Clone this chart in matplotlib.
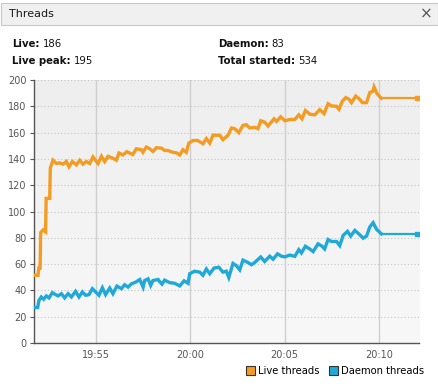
import numpy as np
import matplotlib.pyplot as plt
from matplotlib.patches import Patch, Rectangle
from matplotlib.colors import LinearSegmentedColormap

# data (minutes after 19:50)
live_t = [1.66, 1.93, 1.97, 2.04, 2.07, 2.20, 2.33, 2.36, 2.55, 2.58, 2.72, 2.90, 3.08, 3.25,
          3.43, 3.57, 3.75, 3.96, 4.14, 4.31, 4.49, 4.67, 4.84, 5.11, 5.29, 5.46, 5.64, 5.90,
          6.08, 6.22, 6.43, 6.64, 6.95, 7.14, 7.41, 7.49, 7.67, 7.85, 8.02, 8.20, 8.47, 8.64,
          8.82, 9.08, 9.26, 9.44, 9.61, 9.79, 9.92, 10.14, 10.39, 10.67, 10.85, 11.03, 11.20,
          11.56, 11.73, 12.00, 12.18, 12.35, 12.57, 12.79, 12.97, 13.15, 13.41, 13.59, 13.73,
          13.94, 14.12, 14.44, 14.57, 14.79, 15.01, 15.27, 15.54, 15.75, 15.92, 16.10, 16.33,
          16.60, 16.86, 17.09, 17.30, 17.48, 17.75, 17.88, 18.06, 18.24, 18.41, 18.54, 18.77,
          18.98, 19.12, 19.34, 19.51, 19.69, 19.74, 19.90, 20.13, 21.99]
live = [51.5, 51.5, 57, 57, 84, 86, 84.5, 110, 110, 133, 139, 136.5, 137, 136,
        138, 134, 138, 135.5, 139, 136, 138, 136.5, 141.5, 136.5, 142, 138, 142, 140.5,
        139, 144.5, 143, 145.5, 143.3, 147.7, 147, 145, 149, 147.7, 145.6, 148.5, 148.2, 146.4,
        146.4, 145, 144.6, 143, 147, 145, 152, 154, 154, 151.5, 155.4, 152, 158,
        158, 154.6, 158, 163.5, 163, 160, 165.5, 166, 163.5, 164, 163, 169,
        168, 165, 170.5, 168.5, 172, 169, 170, 170, 173.5, 170.5, 176.8, 174,
        173.5, 177.5, 174.4, 182, 180.3, 180, 177.7, 184, 186.6, 185.3, 182.8, 187.8,
        185.3, 182.8, 182.8, 190.4, 191.6, 194.7, 189.6, 186, 186]

daemon_t = [1.64, 1.91, 1.98, 2.10, 2.23, 2.37, 2.51, 2.69, 2.86, 2.99, 3.17, 3.34, 3.52, 3.70,
            3.92, 4.10, 4.28, 4.45, 4.63, 4.81, 5.02, 5.16, 5.34, 5.51, 5.73, 5.90, 6.11, 6.35,
            6.52, 6.70, 6.88, 7.11, 7.32, 7.50, 7.58, 7.76, 7.90, 8.02, 8.29, 8.38, 8.50, 8.64,
            8.91, 9.17, 9.44, 9.67, 9.88, 9.97, 10.23, 10.50, 10.67, 10.85, 11.03, 11.26, 11.51,
            11.73, 11.91, 12.04, 12.26, 12.44, 12.62, 12.79, 13.06, 13.24, 13.41, 13.73, 13.94,
            14.21, 14.39, 14.62, 14.83, 15.01, 15.27, 15.54, 15.75, 15.89, 16.10, 16.33, 16.51,
            16.77, 16.98, 17.12, 17.30, 17.48, 17.75, 17.92, 18.10, 18.33, 18.50, 18.72, 18.93,
            19.16, 19.34, 19.51, 19.69, 19.87, 20.13, 21.99]
daemon = [27, 27, 32.5, 35, 33.3, 35.8, 34.3, 38.3, 36.8, 35.8, 37.5, 34.3, 37.5, 35,
          39.3, 35, 38.8, 36.3, 36.8, 41.3, 38.3, 36.3, 42, 36.8, 41.8, 37.5, 43.3, 41.3,
          44.3, 42.5, 45, 46.3, 48.3, 42.5, 47.5, 48.8, 43.8, 47.5, 48.3, 46.6, 44.8, 47.8,
          45.9, 45.4, 43.4, 47.3, 45.4, 52.7, 54.6, 53.9, 51.5, 56.3, 52.7, 57, 57.6,
          53.9, 54.6, 49.8, 60.5, 58.8, 55.6, 63, 61.2, 59.5, 61.2, 65.4, 62,
          66, 63.7, 67.8, 66, 65.5, 66.9, 65.9, 71, 68.5, 73.6, 71.5, 69.5,
          75.4, 73.6, 71.5, 78.7, 77.2, 77.2, 74.1, 81.8, 84.9, 81.3, 85.6, 83,
          79.7, 81.3, 88.2, 91.5, 86.4, 83, 83]

xticks = [5, 10, 15, 20]
xtick_labels = ['19:55', '20:00', '20:05', '20:10']

orange = '#f49c22'
blue = '#1fa9d8'
W, H = 438, 386

fig = plt.figure(figsize=(W / 100, H / 100), dpi=100)
fig.patch.set_facecolor('white')

# panel header
fig.patches.append(Rectangle((0.5 / W, 1 - 25 / H), 437 / W, 22.5 / H, transform=fig.transFigure,
                             facecolor='#f0f0f0', edgecolor='#c8c8c8', lw=0.8))
fig.text(9 / W, 1 - 14 / H, 'Threads', fontsize=8, va='center', color='#1a1a1a')
fig.text(426 / W, 1 - 14.5 / H, '×', fontsize=11, va='center', ha='center', color='#555555')

# summary
def info(x, y, key, val):
    t = fig.text(x / W, 1 - y / H, key, fontsize=7.3, fontweight='bold', va='center', color='#111111')
    fig.canvas.draw()
    bb = t.get_window_extent()
    fig.text((bb.x1 + 3) / W, 1 - y / H, val, fontsize=7.3, va='center', color='#111111')

info(12, 44, 'Live:', '186')
info(12, 61, 'Live peak:', '195')
info(218, 44, 'Daemon:', '83')
info(218, 61, 'Total started:', '534')

ax = fig.add_axes([33.5 / W, 1 - 343 / H, 385.5 / W, 263 / H])
x0, x1 = 1.69, 22.12
cmap = LinearSegmentedColormap.from_list('bg', ['#f8f8f8', '#eeeeee'])
ax.imshow(np.linspace(0, 1, 100).reshape(-1, 1), extent=[x0, x1, 0, 200], aspect='auto',
          cmap=cmap, origin='lower', zorder=0)
ax.set_xlim(x0, x1)
ax.set_ylim(0, 200)

for y in range(20, 201, 20):
    ax.axhline(y, color='#c4c4c4', lw=0.8, ls=(0, (1, 2)), zorder=1)
for x in xticks:
    ax.axvline(x, color='#cfcfcf', lw=1.0, zorder=1)

ax.plot(live_t[:-1], live[:-1], color=orange, lw=2.4, solid_joinstyle='miter', zorder=3)
ax.plot(live_t[-2:], live[-2:], color=orange, lw=1.6, zorder=3)
ax.plot(live_t[-1:], live[-1:], 's', color=orange, ms=2.5, zorder=3)
ax.plot(daemon_t[:-1], daemon[:-1], color=blue, lw=2.4, solid_joinstyle='miter', zorder=3)
ax.plot(daemon_t[-2:], daemon[-2:], color=blue, lw=1.6, zorder=3)
ax.plot(daemon_t[-1:], daemon[-1:], 's', color=blue, ms=2.5, zorder=3)

ax.set_yticks(range(0, 201, 20))
ax.set_xticks(xticks)
ax.set_xticklabels(xtick_labels)
ax.tick_params(axis='y', length=3, width=0.8, colors='#555555', labelsize=7, pad=2)
ax.tick_params(axis='x', length=0, colors='#555555', labelsize=7, pad=5)
for s in ['top', 'right']:
    ax.spines[s].set_visible(False)
for s in ['left', 'bottom']:
    ax.spines[s].set_color('#555555')
    ax.spines[s].set_linewidth(1.0)

handles = [Patch(facecolor=orange, edgecolor='#333333', lw=0.8, label='Live threads'),
           Patch(facecolor=blue, edgecolor='#333333', lw=0.8, label='Daemon threads')]
fig.legend(handles=handles, loc='center right', bbox_to_anchor=(424 / W, 1 - 371 / H),
           ncol=2, frameon=False, fontsize=7.2, handlelength=0.9, handleheight=0.9,
           handletextpad=0.3, columnspacing=0.9, borderaxespad=0, borderpad=0)

fig.savefig('out.png', dpi=100)
